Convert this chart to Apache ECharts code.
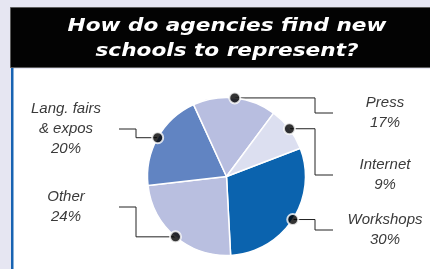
<!DOCTYPE html>
<html>
<head>
<meta charset="utf-8">
<script src="https://cdn.jsdelivr.net/npm/echarts@6/dist/echarts.min.js"></script>
<style>
  html, body { margin: 0; padding: 0; background: #e6e6f2; }
  #main { width: 430px; height: 269px; }
</style>
</head>
<body>
<div id="main"></div>
<script>
// clockwise from the Workshops/Internet boundary
var names = ["Workshops", "Other", "Lang. fairs\n& expos", "Press", "Internet"];
var values = [30, 24, 20, 17, 9];
var colors = ["#0b63ae", "#b9bfe0", "#6184c2", "#b8bee0", "#dcdff0"];

// label placement (layout only)
var labelSide = ["right", "left", "left", "right", "right"];
var labelY = [230, 207, 129, 113, 175];

var center = [226.5, 176.5];
var radius = 79;
var startAngle = 21;

var total = 0;
values.forEach(function (v) { total += v; });

// dot on the rim at the middle of each slice
var dots = [];
var acc = 0;
for (var i = 0; i < values.length; i++) {
  dots.push([1, acc + values[i] / 2]);
  acc += values[i];
}

var chart = echarts.init(document.getElementById("main"));

var option = {
  backgroundColor: "#e6e6f2",
  animation: false,
  graphic: [
    {
      type: "rect",
      shape: { x: 10.5, y: 7.5, width: 430, height: 60 },
      style: { fill: "#030303", stroke: "#5c5c5c", lineWidth: 1 },
    },
    {
      type: "rect",
      shape: { x: 13, y: 69, width: 420, height: 205 },
      style: { fill: "#ffffff" },
    },
    {
      type: "rect",
      shape: { x: 11, y: 68, width: 2.5, height: 205 },
      style: { fill: "#1763b2" },
    },
    {
      type: "text",
      x: 227,
      y: 14,
      scaleX: 1.2,
      style: {
        text: "How do agencies find new\nschools to represent?",
        align: "center",
        verticalAlign: "top",
        fill: "#ffffff",
        font: "italic bold 18px 'DejaVu Sans'",
        lineHeight: 25,
      },
    },
  ],
  polar: { center: center, radius: radius },
  angleAxis: {
    type: "value",
    min: 0,
    max: total,
    startAngle: startAngle,
    clockwise: true,
    show: false,
  },
  radiusAxis: { type: "value", min: 0, max: 1, show: false },
  series: [
    {
      type: "pie",
      center: center,
      radius: radius,
      startAngle: startAngle,
      clockwise: true,
      avoidLabelOverlap: false,
      itemStyle: { borderColor: "#ffffff", borderWidth: 1.5 },
      emphasis: { disabled: true },
      label: {
        show: true,
        position: "outside",
        formatter: function (p) {
          return p.name + "\n" + p.value + "%";
        },
        color: "#3a3a3a",
        fontFamily: "Liberation Sans",
        fontStyle: "italic",
        fontSize: 15,
        lineHeight: 20,
        align: "center",
      },
      labelLine: {
        show: true,
        length: 10,
        length2: 10,
        lineStyle: { color: "#222222", width: 1 },
      },
      labelLayout: function (params) {
        var i = params.dataIndex;
        var p = params.labelLinePoints[0];
        var left = labelSide[i] === "left";
        var elbowX = left ? 136 : 315;
        var endX = left ? 119 : 333;
        var y = labelY[i];
        return {
          x: left ? 66 : 385,
          y: y,
          align: "center",
          verticalAlign: "middle",
          labelLinePoints: [p, [elbowX, p[1]], [elbowX, y], [endX, y]],
        };
      },
      data: names.map(function (n, i) {
        return { name: n, value: values[i], itemStyle: { color: colors[i] } };
      }),
    },
    {
      type: "scatter",
      coordinateSystem: "polar",
      z: 5,
      symbolSize: 11,
      itemStyle: { color: "#000000", borderColor: "#ffffff", borderWidth: 2 },
      emphasis: { disabled: true },
      data: dots,
    },
  ],
};

chart.setOption(option);
</script>
</body>
</html>
